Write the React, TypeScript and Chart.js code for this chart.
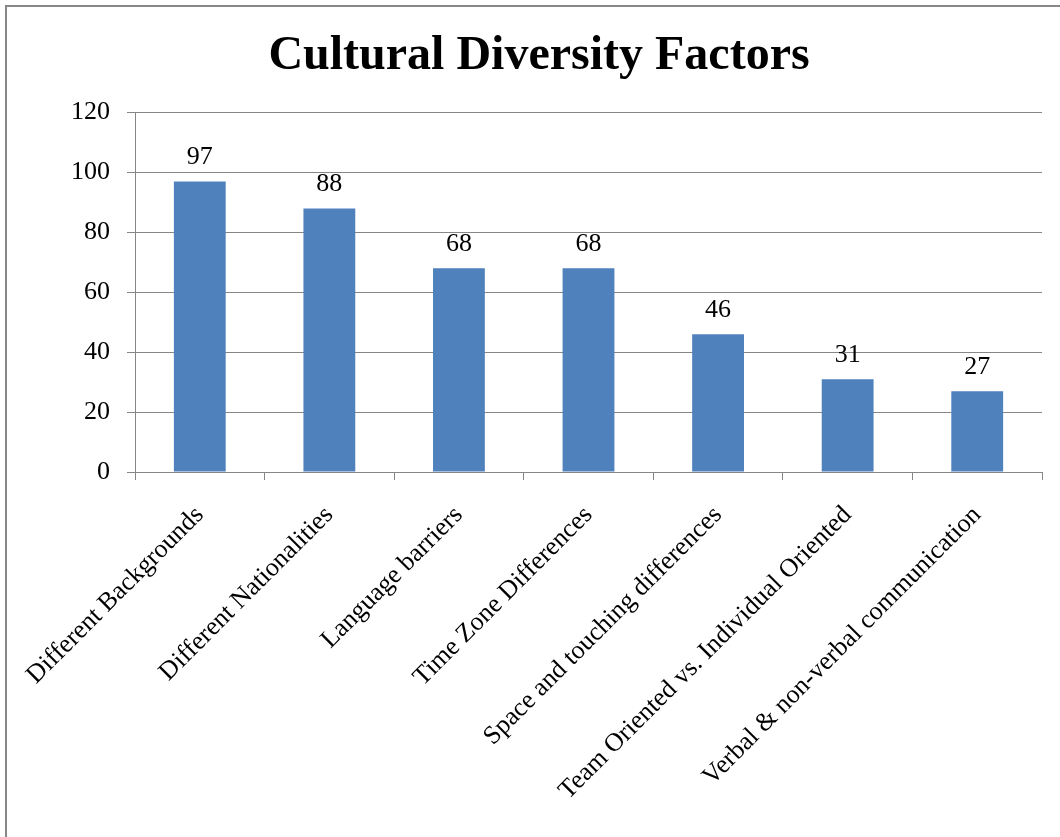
import React, { useEffect, useRef } from "react";
import { Chart, registerables } from "chart.js";

Chart.register(...registerables);

const categories = [
  "Different Backgrounds",
  "Different Nationalities",
  "Language barriers",
  "Time Zone Differences",
  "Space and touching differences",
  "Team Oriented vs. Individual Oriented",
  "Verbal & non-verbal communication",
];
const values = [97, 88, 68, 68, 46, 31, 27];
const yTicks = { min: 0, max: 120, step: 20 };
const titleText = "Cultural Diversity Factors";

const FONT = "'Liberation Serif', 'Times New Roman', serif";

const valueLabels = {
  id: "valueLabels",
  afterDatasetsDraw(chart: any) {
    const ctx = chart.ctx;
    const meta = chart.getDatasetMeta(0);
    ctx.save();
    ctx.font = `26px ${FONT}`;
    ctx.fillStyle = "#000";
    ctx.textAlign = "center";
    ctx.textBaseline = "alphabetic";
    meta.data.forEach((bar: any, i: number) => {
      ctx.fillText(String(values[i]), bar.x, bar.y - 17);
    });
    ctx.restore();
  },
};

export default function App() {
  const ref = useRef<HTMLCanvasElement>(null);
  useEffect(() => {
    const chart = new Chart(ref.current!, {
      type: "bar",
      data: {
        labels: categories,
        datasets: [
          {
            data: values,
            backgroundColor: "#4F81BD",
            borderWidth: 0,
            barPercentage: 0.4,
            categoryPercentage: 1,
          },
        ],
      },
      options: {
        responsive: false,
        animation: false,
        devicePixelRatio: 1,
        layout: { padding: { top: 0, right: 18, left: 36, bottom: 0 } },
        plugins: {
          legend: { display: false },
          tooltip: { enabled: false },
          title: {
            display: true,
            text: titleText,
            color: "#000",
            font: { family: FONT, size: 48, weight: "bold", lineHeight: 1.2 },
            padding: { top: 28, bottom: 27 },
          },
        },
        scales: {
          x: {
            grid: {
              drawOnChartArea: false,
              drawTicks: true,
              tickLength: 8,
              color: "#868686",
            },
            border: { color: "#868686", width: 1 },
            ticks: {
              color: "#000",
              font: { family: FONT, size: 26 },
              minRotation: 45,
              maxRotation: 45,
              autoSkip: false,
              padding: 20,
            },
            afterFit: (s: any) => {
              s.height = 837 - 472;
            },
          },
          y: {
            min: yTicks.min,
            max: yTicks.max,
            ticks: {
              stepSize: yTicks.step,
              color: "#000",
              font: { family: FONT, size: 26 },
              padding: 17,
            },
            grid: { color: "#868686", tickLength: 8 },
            border: { color: "#868686", width: 1 },
            afterFit: (s: any) => {
              s.width = 135 - 36;
            },
          },
        },
      },
      plugins: [valueLabels],
    });
    return () => chart.destroy();
  }, []);

  return (
    <div
      style={{
        position: "absolute",
        left: 0,
        top: 0,
        width: 1060,
        height: 837,
        overflow: "hidden",
        background: "#fff",
      }}
    >
      <div
        style={{
          position: "absolute",
          left: 5,
          top: 5,
          width: 1200,
          height: 1000,
          borderLeft: "2px solid #888",
          borderTop: "2px solid #888",
        }}
      />
      <canvas
        ref={ref}
        width={1060}
        height={837}
        style={{ position: "absolute", left: 0, top: 0 }}
      />
    </div>
  );
}
